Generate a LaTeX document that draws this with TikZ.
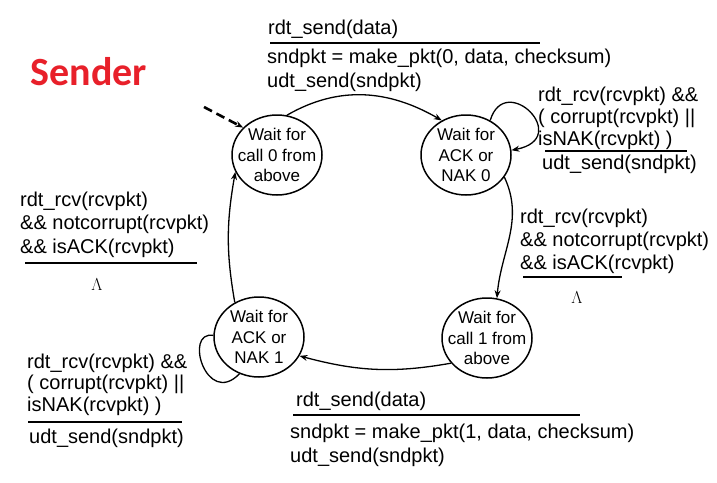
\documentclass[tikz,border=0pt]{standalone}
\usepackage{fontspec}
\setmainfont{Liberation Sans}
\newfontfamily\titlefont{Carlito}
\usetikzlibrary{shapes.geometric,arrows.meta}
\definecolor{senderred}{RGB}{232,32,42}
\tikzset{
  state/.style={ellipse,draw,line width=1.5pt,minimum width=90pt,minimum height=80pt,inner xsep=-8pt,inner ysep=-2pt,align=center,font=\fontsize{17}{20.5}\selectfont},
  lbl/.style={anchor=north west,inner sep=0pt,align=left,font=\fontsize{20}{23}\selectfont},
  trans/.style={-{Stealth[length=8pt,width=6pt]},line width=1.3pt},
  bar/.style={line width=2.8pt}
}
\begin{document}
\begin{tikzpicture}[x=1pt,y=-1pt]
\useasboundingbox (0,0) rectangle (717,482);
\node[text=senderred,font=\titlefont\bfseries\fontsize{40}{40}\selectfont] (title) at (89,72) {Sender};
\node[state] (wait0) at (277,155) {Wait for\\call 0 from\\above};
\node[state] (ack0) at (466,155) {Wait for\\ACK or\\NAK 0};
\node[state] (wait1) at (487,338) {Wait for\\call 1 from\\above};
\node[state] (ack1) at (259,337) {Wait for\\ACK or\\NAK 1};
\coordinate (init) at (204,107);
\draw[trans,line width=2.6pt,dash pattern=on 9pt off 5pt] (init) -- (wait0.141);
\draw[trans] (wait0.76) to[out=30,in=150] (ack0.125);
\draw[trans] (ack0.55) .. controls +(15,-50) and +(62,-12) .. (ack0.6);
\draw[trans] (ack0.-30) to[out=-65,in=85] (wait1.76);
\draw[trans] (wait1.-145) to[out=190,in=-15] (ack1.-25);
\draw[line width=1.3pt] (ack1.178) .. controls +(-30,-5) and +(-33,34) .. (ack1.-118);
\draw[trans] (ack1.125) to[out=100,in=-100] (wait0.-158);
\node[lbl] (sendguard0) at (268,19.5) {rdt\_send(data)};
\draw[bar] (270,43) -- (540,43);
\node[lbl,font=\fontsize{20}{24}\selectfont] (sendact0) at (267,48.5) {sndpkt = make\_pkt(0, data, checksum)\\udt\_send(sndpkt)};
\node[lbl,font=\fontsize{20}{22}\selectfont] (nakguard0) at (538,86.5) {rdt\_rcv(rcvpkt) \&\&\\( corrupt(rcvpkt) ||\\isNAK(rcvpkt) )};
\draw[bar] (545,151) -- (687,151);
\node[lbl] (nakact0) at (542,154.5) {udt\_send(sndpkt)};
\node[lbl] (ackguard0) at (520,208.5) {rdt\_rcv(rcvpkt)\\\&\& notcorrupt(rcvpkt)\\\&\& isACK(rcvpkt)};
\draw[bar] (523,277) -- (622,277);
\node[font=\fontsize{17.5}{20}\selectfont] (ackact0) at (577,298) {$\Lambda$};
\node[lbl,font=\fontsize{20}{23.5}\selectfont] (ackguard1) at (20,191.5) {rdt\_rcv(rcvpkt)\\\&\& notcorrupt(rcvpkt)\\\&\& isACK(rcvpkt)};
\draw[bar] (25,263) -- (197,263);
\node[font=\fontsize{17.5}{20}\selectfont] (ackact1) at (97,285) {$\Lambda$};
\node[lbl,font=\fontsize{20}{21.5}\selectfont] (nakguard1) at (27,353.5) {rdt\_rcv(rcvpkt) \&\&\\( corrupt(rcvpkt) ||\\isNAK(rcvpkt) )};
\draw[bar] (28,422) -- (182,422);
\node[lbl] (nakact1) at (29,428.5) {udt\_send(sndpkt)};
\node[lbl] (sendguard1) at (296,391.5) {rdt\_send(data)};
\draw[bar] (293,415) -- (580,415);
\node[lbl,font=\fontsize{20}{24}\selectfont] (sendact1) at (290,423.5) {sndpkt = make\_pkt(1, data, checksum)\\udt\_send(sndpkt)};
\end{tikzpicture}
\end{document}
